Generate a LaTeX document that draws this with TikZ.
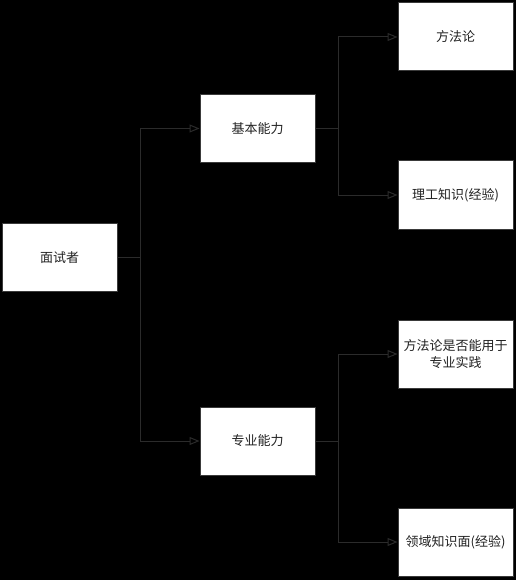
\documentclass[tikz,border=0pt]{standalone}
\usepackage{fontspec}
\setmainfont{Noto Sans CJK SC}
\usetikzlibrary{arrows.meta}
\definecolor{linegray}{HTML}{2B2B2B}
\definecolor{framegray}{HTML}{3A3A3A}
\definecolor{textgray}{HTML}{222222}
\tikzset{
  box/.style={draw=framegray,fill=white,line width=1pt,minimum width=115pt,
    minimum height=68pt,inner sep=0pt,align=center,text=textgray,
    font=\fontsize{13}{17}\selectfont},
  link/.style={draw=linegray,line width=1pt,-{Triangle[open,length=10pt,width=8pt]}}
}
\begin{document}
\begin{tikzpicture}[x=1pt,y=-1pt]
    \fill[black] (0,0) rectangle (516,580);
    \useasboundingbox (0,0) rectangle (516,580);
    \node[box] (candidate) at (59.5,257.5) {面试者};
    \node[box] (basic) at (257.5,128.5) {基本能力};
    \node[box] (pro) at (257.5,441) {专业能力};
    \node[box] (method) at (455.5,37) {方法论};
    \node[box] (science) at (455.5,195) {理工知识(经验)};
    \node[box] (practice) at (455.5,354) {方法论是否能用于\\专业实践};
    \node[box] (domain) at (455.5,542) {领域知识面(经验)};
    \draw[link] (candidate.east) -- (140,257.5) |- (basic.west);
    \draw[link] (candidate.east) -- (140,257.5) |- (pro.west);
    \draw[link] (basic.east) -- (338,128.5) |- (method.west);
    \draw[link] (basic.east) -- (338,128.5) |- (science.west);
    \draw[link] (pro.east) -- (338,441) |- (practice.west);
    \draw[link] (pro.east) -- (338,441) |- (domain.west);
\end{tikzpicture}
\end{document}
